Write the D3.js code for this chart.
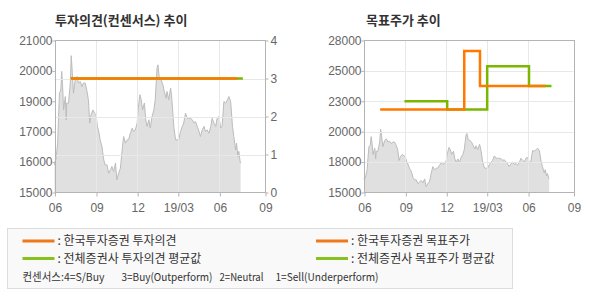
<!DOCTYPE html>
<html><head><meta charset="utf-8">
<script src="https://cdn.jsdelivr.net/npm/d3@7"></script>
<style>
html,body{margin:0;padding:0;background:#fff;}
svg{display:block;}
text{font-family:"Liberation Sans","Noto Sans CJK KR",sans-serif;}
.kr{font-family:"Noto Sans CJK KR","Liberation Sans",sans-serif;}
</style></head>
<body>
<svg id="c" width="590" height="300"></svg>
<script>
// ---------- data ----------
const priceDates = ["2018-06-01","2018-06-02","2018-06-05","2018-06-08","2018-06-10","2018-06-12","2018-06-15","2018-06-17","2018-06-19","2018-06-21","2018-06-25","2018-06-27","2018-06-28","2018-07-02","2018-07-06","2018-07-08","2018-07-10","2018-07-13","2018-07-17","2018-07-21","2018-07-24","2018-07-28","2018-08-01","2018-08-04","2018-08-08","2018-08-12","2018-08-15","2018-08-18","2018-08-21","2018-08-25","2018-08-29","2018-09-01","2018-09-04","2018-09-07","2018-09-10","2018-09-14","2018-09-18","2018-09-21","2018-09-25","2018-09-29","2018-10-03","2018-10-06","2018-10-10","2018-10-14","2018-10-17","2018-10-21","2018-10-25","2018-10-28","2018-11-01","2018-11-05","2018-11-09","2018-11-12","2018-11-16","2018-11-20","2018-11-23","2018-11-27","2018-12-01","2018-12-03","2018-12-07","2018-12-10","2018-12-13","2018-12-17","2018-12-20","2018-12-23","2018-12-27","2018-12-30","2019-01-03","2019-01-07","2019-01-10","2019-01-14","2019-01-16","2019-01-19","2019-01-23","2019-01-27","2019-01-30","2019-02-03","2019-02-05","2019-02-09","2019-02-13","2019-02-15","2019-02-18","2019-02-20","2019-02-24","2019-02-28","2019-03-03","2019-03-07","2019-03-11","2019-03-14","2019-03-18","2019-03-22","2019-03-25","2019-03-29","2019-04-02","2019-04-06","2019-04-09","2019-04-13","2019-04-17","2019-04-20","2019-04-24","2019-04-28","2019-05-01","2019-05-05","2019-05-09","2019-05-13","2019-05-16","2019-05-20","2019-05-24","2019-05-27","2019-05-31","2019-06-04","2019-06-07","2019-06-11","2019-06-15","2019-06-19","2019-06-22","2019-06-26","2019-06-30","2019-07-03","2019-07-07","2019-07-09","2019-07-12","2019-07-14","2019-07-17","2019-07-18"];
const priceValues = [16220,16090,16420,16950,18000,18920,19050,19780,19180,18260,18790,17870,18530,18530,19320,20400,19840,18920,19450,19580,19320,19380,19180,19320,19320,18990,18660,17740,18070,18260,18130,18070,17610,17410,17080,16820,16290,16090,16090,15760,15900,16030,15830,16160,15500,15760,15960,16550,17210,16950,17080,17080,17340,17540,17410,17470,17740,18260,18860,18660,18260,18530,17870,17610,17870,17540,18000,18260,18660,19910,20040,19510,19450,19250,18990,18720,18990,18660,19120,18860,18130,17610,17080,17080,17080,17410,17610,17740,18130,17930,17930,17930,17870,17740,17800,17610,17410,17210,17470,17610,17410,17470,17340,17610,17930,17740,17610,17930,18000,17540,17610,18590,18530,18660,18790,18590,17610,17210,16680,16950,16420,16620,16220,16160];

// investment opinion (consensus), step series
const opinionHanDates = ["2018-07-07","2019-07-11"];
const opinionHanValues = [3,3];
const opinionAvgDates = ["2018-07-07","2019-07-23"];
const opinionAvgValues = [3,3];

// target price, step series
const targetHanDates = ["2018-07-07","2019-01-10","2019-02-14","2019-07-10"];
const targetHanValues = [22100,27100,24100,24100];
const targetAvgDates = ["2018-08-30","2018-12-03","2019-03-02","2019-06-03","2019-07-23"];
const targetAvgValues = [22800,22100,25800,24100,24100];

// axes
const xDomain = ["2018-06-01","2019-09-10"];
const xTickDates = ["2018-06-01","2018-09-01","2018-12-01","2019-03-01","2019-06-01","2019-09-10"];
const xTickLabels = ["06","09","12","19/03","06","09"];
const leftPriceDomain = [15000,21000];
const leftPriceTicks = [15000,16200,17400,18600,19800,21000];
const leftPriceLabels = ["15000","16000","17000","19000","20000","21000"];
const opinionDomain = [0,4];
const opinionTicks = [0,1,2,3,4];
const opinionLabels = ["0","1","2","3","4"];
const rightPriceDomain = [15000,28000];
const rightPriceTicks = [15000,17600,20200,22800,25400,28000];
const rightPriceLabels = ["15000","18000","20000","23000","25000","28000"];

const titles = ["투자의견(컨센서스) 추이","목표주가 추이"];
const legendItems = [": 한국투자증권 투자의견",": 전체증권사 투자의견 평균값",": 한국투자증권 목표주가",": 전체증권사 목표주가 평균값"];
const legendNote = ["컨센서스:4=S/Buy","3=Buy(Outperform)","2=Neutral","1=Sell(Underperform)"];

// ---------- drawing ----------
const ORANGE = "#ff7800", GREEN = "#7ab800";
const svg = d3.select("#c");
const P = d3.timeParse("%Y-%m-%d");
const price = priceDates.map((d,i)=>({d:P(d),v:priceValues[i]}));
const toPts = (ds,vs)=>ds.map((d,i)=>({d:P(d),v:vs[i]}));

function panel(x0,x1,yDomain,yTicks,yLabels,gridVals,gridScale){
  const top=40.5, bot=192.5;
  const x = d3.scaleTime().domain(xDomain.map(P)).range([x0,x1]);
  const y = d3.scaleLinear().domain(yDomain).range([bot,top]);
  const g = svg.append("g");
  const area = d3.area().x(d=>x(d.d)).y0(bot).y1(d=>y(d.v));
  const line = d3.line().x(d=>x(d.d)).y(d=>y(d.v));
  g.append("path").datum(price).attr("d",area).attr("fill","#e0e0e0");
  g.append("path").datum(price).attr("d",line).attr("fill","none").attr("stroke","#bcbcbc").attr("stroke-width",1);
  const gs = gridScale || y;
  g.selectAll(".hg").data(gridVals).enter().append("line")
    .attr("x1",x0).attr("x2",x1).attr("y1",d=>Math.round(gs(d))+0.5).attr("y2",d=>Math.round(gs(d))+0.5)
    .attr("stroke","#e8e8e8").attr("stroke-width",1);
  g.selectAll(".vg").data(xTickDates.slice(1,-1)).enter().append("line")
    .attr("x1",d=>Math.round(x(P(d)))+0.5).attr("x2",d=>Math.round(x(P(d)))+0.5).attr("y1",top).attr("y2",bot)
    .attr("stroke","#e8e8e8").attr("stroke-width",1);
  g.append("rect").attr("x",Math.round(x0)+0.5).attr("y",top).attr("width",Math.round(x1)-Math.round(x0)).attr("height",bot-top)
    .attr("fill","none").attr("stroke","#b4b4b4");
  const xa = d3.axisBottom(x).tickValues(xTickDates.map(P)).tickSize(4).tickFormat((d,i)=>xTickLabels[i]);
  const gx = svg.append("g").attr("transform",`translate(0.5,${bot})`).call(xa);
  gx.select(".domain").remove();
  gx.selectAll("line").attr("stroke","#b4b4b4");
  gx.selectAll("text").attr("fill","#666").attr("font-size","12px").attr("dy","1.05em");
  const ya = d3.axisLeft(y).tickValues(yTicks).tickSize(3).tickFormat((d,i)=>yLabels[i]);
  const gy = svg.append("g").attr("transform",`translate(${Math.round(x0)+0.5},0)`).call(ya);
  gy.select(".domain").remove();
  gy.selectAll("line").attr("stroke","#b4b4b4");
  gy.selectAll("text").attr("fill","#666").attr("font-size","12px").attr("x",-3);
  return {x,y,g,top,bot};
}

// left panel
const yOp = d3.scaleLinear().domain(opinionDomain).range([192.5,40.5]);
const L = panel(54.5,265,leftPriceDomain,leftPriceTicks,leftPriceLabels,opinionTicks.slice(1,-1),yOp);
const stepL = d3.line().curve(d3.curveStepAfter).x(d=>L.x(d.d)).y(d=>yOp(d.v));
L.g.append("path").datum(toPts(opinionAvgDates,opinionAvgValues)).attr("d",stepL).attr("fill","none").attr("stroke",GREEN).attr("stroke-width",2.5);
L.g.append("path").datum(toPts(opinionHanDates,opinionHanValues)).attr("d",stepL).attr("fill","none").attr("stroke",ORANGE).attr("stroke-width",2.5);
const ra = d3.axisRight(yOp).tickValues(opinionTicks).tickSize(3).tickFormat((d,i)=>opinionLabels[i]);
const gr = svg.append("g").attr("transform","translate(265.5,0)").call(ra);
gr.select(".domain").remove();
gr.selectAll("line").attr("stroke","#b4b4b4");
gr.selectAll("text").attr("fill","#666").attr("font-size","12px").attr("x",5);

// right panel
const R = panel(364,573.5,rightPriceDomain,rightPriceTicks,rightPriceLabels,rightPriceTicks.slice(1,-1));
const stepR = d3.line().curve(d3.curveStepAfter).x(d=>R.x(d.d)).y(d=>R.y(d.v));
R.g.append("path").datum(toPts(targetAvgDates,targetAvgValues)).attr("d",stepR).attr("fill","none").attr("stroke",GREEN).attr("stroke-width",2.5);
R.g.append("path").datum(toPts(targetHanDates,targetHanValues)).attr("d",stepR).attr("fill","none").attr("stroke",ORANGE).attr("stroke-width",2.5);

// titles
svg.append("text").attr("class","kr").attr("x",55).attr("y",25).attr("font-size","13px").attr("font-weight","bold").attr("fill","#333").text(titles[0]);
svg.append("text").attr("class","kr").attr("x",366).attr("y",25).attr("font-size","13px").attr("font-weight","bold").attr("fill","#333").text(titles[1]);

// legend
const lg = svg.append("g");
lg.append("rect").attr("x",7.5).attr("y",228.5).attr("width",505).attr("height",60).attr("fill","#f9f9f9").attr("stroke","#dcdcdc");
const legPos = [[22.5,241],[22.5,258.5],[316,241],[316,258.5]];
const legColors = ["#f07818","#88c020","#f07818","#88c020"];
legendItems.forEach((t,i)=>{
  const [lx,ly] = legPos[i];
  lg.append("line").attr("x1",lx).attr("x2",lx+32).attr("y1",ly).attr("y2",ly).attr("stroke",legColors[i]).attr("stroke-width",3);
  lg.append("text").attr("class","kr").attr("x",lx+35).attr("y",ly).attr("dy","0.36em").attr("font-size","12px").attr("fill","#333").text(t);
});
const noteX = [22.5,121.5,219.5,275.5];
const noteW = [82,91,44,103];
legendNote.forEach((t,i)=>{
  lg.append("text").attr("class","kr").attr("x",noteX[i]).attr("y",277.5).attr("dy","0.36em").attr("font-size","11px").attr("fill","#333")
    .attr("textLength",noteW[i]).attr("lengthAdjust","spacingAndGlyphs").text(t);
});
</script>
</body></html>
